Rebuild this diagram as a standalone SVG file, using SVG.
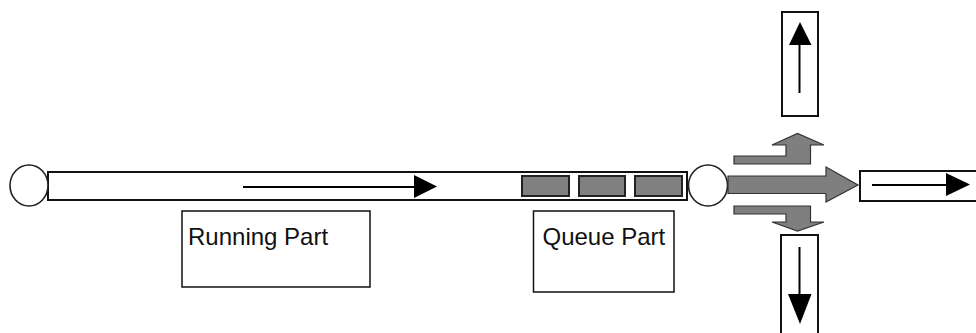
<svg xmlns="http://www.w3.org/2000/svg" width="976" height="333" viewBox="0 0 976 333">
<style>
.road{fill:#fff;stroke:#111;stroke-width:2}
.node{fill:#fff;stroke:#222;stroke-width:1.6}
.car{fill:#808080;stroke:#222;stroke-width:2}
.flow{fill:#7f7f7f;stroke:#333;stroke-width:1.2}
.line{stroke:#000;stroke-width:2;fill:none}
.head{fill:#000}
.label{fill:#fff;stroke:#111;stroke-width:1.5}
.txt{font-family:"Liberation Sans",Arial,sans-serif;font-size:24px;fill:#111}
</style>
<rect width="976" height="333" fill="#fff"/>
<g id="road-main">
  <rect class="road" x="48" y="172" width="639" height="28"/>
  <line class="line" x1="243" y1="187" x2="416" y2="187"/>
  <polygon class="head" points="414,175 437,186.5 414,198"/>
</g>
<g id="queue">
  <rect class="car" x="522" y="176" width="47" height="20"/>
  <rect class="car" x="579" y="176" width="46" height="20"/>
  <rect class="car" x="635" y="176" width="47" height="20"/>
</g>
<g id="node-start">
  <ellipse class="node" cx="29" cy="185.5" rx="19" ry="20.5"/>
</g>
<g id="node-junction">
  <ellipse class="node" cx="708" cy="185.5" rx="19.5" ry="20.5"/>
</g>
<g id="road-right">
  <rect class="road" x="860" y="171" width="130" height="30"/>
  <line class="line" x1="872" y1="185" x2="948" y2="185"/>
  <polygon class="head" points="946,173 970,184.5 946,196"/>
</g>
<g id="road-up">
  <rect class="road" x="782" y="12" width="36" height="104"/>
  <line class="line" x1="799.5" y1="93" x2="799.5" y2="43"/>
  <polygon class="head" points="789,45 800,22 811.5,45"/>
</g>
<g id="road-down">
  <rect class="road" x="781" y="235" width="37" height="110"/>
  <line class="line" x1="799.5" y1="247" x2="799.5" y2="296"/>
  <polygon class="head" points="788,294 800,324 811.5,294"/>
</g>
<g id="connectors">
  <polygon class="flow" points="728,176 826,176 826,167 858,185 826,202 826,193.5 728,193.5"/>
  <polygon class="flow" points="734,156 786,156 786,145 772,145 797.5,133.5 824,145 810.5,145 810.5,164 734,164"/>
  <polygon class="flow" points="734,206 810.5,206 810.5,222 824,222 797.5,231 772,222 786,222 786,214 734,214"/>
</g>
<g id="label-running">
  <rect class="label" x="182" y="211" width="188" height="76"/>
  <text class="txt" x="188" y="245">Running Part</text>
</g>
<g id="label-queue">
  <rect class="label" x="533.5" y="211" width="140.5" height="81"/>
  <text class="txt" x="542.5" y="245">Queue Part</text>
</g>
</svg>
